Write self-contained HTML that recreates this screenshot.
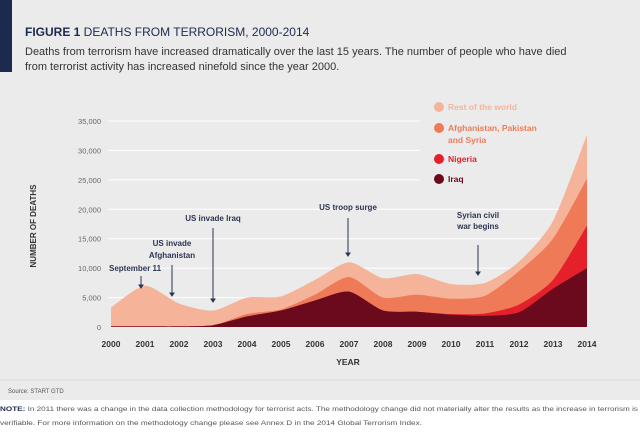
<!DOCTYPE html>
<html><head><meta charset="utf-8"><style>
body{margin:0;width:640px;height:442px;overflow:hidden;background:#ebebeb;font-family:"Liberation Sans",sans-serif}
svg{position:absolute;left:0;top:0}
</style></head><body>
<svg width="640" height="442">
<rect x="0" y="0" width="640" height="400" fill="#ebebeb"/>
<rect x="0" y="400" width="640" height="42" fill="#ffffff"/>
<rect x="0" y="0" width="12" height="72" fill="#1c2a4f"/>
<text x="25" y="36" font-size="12" fill="#1c2a4f"><tspan font-weight="bold">FIGURE 1</tspan> DEATHS FROM TERRORISM, 2000-2014</text>
<text x="25" y="55" font-size="11" fill="#333">Deaths from terrorism have increased dramatically over the last 15 years. The number of people who have died</text>
<text x="25" y="70" font-size="11" fill="#333">from terrorist activity has increased ninefold since the year 2000.</text>
<g id="grid"></g>
<g id="areas"></g>
<g id="axes"></g>
<text transform="translate(36,226) rotate(-90)" text-anchor="middle" font-size="8" font-weight="bold" fill="#333">NUMBER OF DEATHS</text>
<text x="348" y="365" text-anchor="middle" font-size="8.5" font-weight="bold" fill="#333">YEAR</text>
<line x1="0" y1="380" x2="640" y2="380" stroke="#d8d8d8"/>
<text x="8" y="393" font-size="6" fill="#555">Source: START GTD</text>
<text x="0" y="411" font-size="6.6" fill="#555" textLength="638" lengthAdjust="spacingAndGlyphs"><tspan font-weight="bold" fill="#1c2a4f">NOTE:</tspan> In 2011 there was a change in the data collection methodology for terrorist acts. The methodology change did not materially alter the results as the increase in terrorism is</text>
<text x="0" y="425" font-size="6.6" fill="#555" textLength="422" lengthAdjust="spacingAndGlyphs">verifiable. For more information on the methodology change please see Annex D in the 2014 Global Terrorism Index.</text>
<g font-size="8.5" font-weight="bold">
<circle cx="439" cy="107" r="5" fill="#f5b49a"/>
<text x="448" y="110" fill="#f5b49a">Rest of the world</text>
<circle cx="439" cy="128" r="5" fill="#ee7a58"/>
<text x="448" y="131" fill="#ee7a58">Afghanistan, Pakistan</text>
<text x="448" y="143" fill="#ee7a58">and Syria</text>
<circle cx="439" cy="159" r="5" fill="#e4202a"/>
<text x="448" y="162" fill="#e4202a">Nigeria</text>
<circle cx="439" cy="179" r="5" fill="#6a0a1c"/>
<text x="448" y="182" fill="#6a0a1c">Iraq</text>
</g>
<g font-size="8" font-weight="bold" fill="#2a3550" text-anchor="middle" stroke="none">
<text x="135" y="271">September 11</text>
<text x="172" y="246">US invade</text>
<text x="172" y="258">Afghanistan</text>
<text x="213" y="221">US invade Iraq</text>
<text x="348" y="210">US troop surge</text>
<text x="478" y="218">Syrian civil</text>
<text x="478" y="229">war begins</text>
</g>
<g stroke="#2a3550" stroke-width="1" fill="#2a3550">
<line x1="141" y1="276" x2="141" y2="286"/><path d="M139,285 L143,285 L141,288Z"/>
<line x1="172" y1="265" x2="172" y2="294"/><path d="M170,293 L174,293 L172,296Z"/>
<line x1="213" y1="228" x2="213" y2="300"/><path d="M211,299 L215,299 L213,302Z"/>
<line x1="348" y1="218" x2="348" y2="254"/><path d="M346,253 L350,253 L348,256Z"/>
<line x1="478" y1="245" x2="478" y2="273"/><path d="M476,272 L480,272 L478,275Z"/>
</g>
</svg>
<script>
const years=[2000,2001,2002,2003,2004,2005,2006,2007,2008,2009,2010,2011,2012,2013,2014];
const iraq=[100,100,100,300,1800,2800,4500,6000,2800,2600,2100,1900,2500,6500,10000];
const nigeria=[0,0,0,0,0,0,0,0,0,0,100,400,1300,1500,7200];
const afpakSyria=[0,0,0,0,400,200,1000,2500,2200,2900,2600,3000,5700,7000,8000];
const rest=[3200,6900,3900,2500,2800,2200,2500,2500,3300,3500,2500,2200,1600,3000,7500];
const yTicks=[0,5000,10000,15000,20000,25000,30000,35000];
const NS="http://www.w3.org/2000/svg";
const x0=111,x1=587,yb=327,yt=121,ymax=35000;
function xs(i){return x0+(x1-x0)*i/(years.length-1);}
function ys(v){return yb-(yb-yt)*v/ymax;}
const grid=document.getElementById('grid'),areas=document.getElementById('areas'),axes=document.getElementById('axes');
yTicks.forEach(t=>{
 const y=ys(t);
 if(t>0){const l=document.createElementNS(NS,'line');
 l.setAttribute('x1',108);l.setAttribute('x2',t>=25000?420:560);l.setAttribute('y1',y);l.setAttribute('y2',y);
 l.setAttribute('stroke','#ffffff');l.setAttribute('stroke-width','1');
 
 
 grid.appendChild(l);}
 const tx=document.createElementNS(NS,'text');
 tx.setAttribute('x',101);tx.setAttribute('y',y+3);tx.setAttribute('text-anchor','end');
 tx.setAttribute('font-size','7.5');tx.setAttribute('fill','#666');
 tx.textContent=t===0?'0':t.toLocaleString('en-US');
 
 
 axes.appendChild(tx);
});
years.forEach((yr,i)=>{
 const tx=document.createElementNS(NS,'text');
 tx.setAttribute('x',xs(i));tx.setAttribute('y',347);tx.setAttribute('text-anchor','middle');
 tx.setAttribute('font-size','8.5');tx.setAttribute('font-weight','bold');tx.setAttribute('fill','#333');
 tx.textContent=yr;
 
 
 axes.appendChild(tx);
});
function curve(pts){
 let d='M'+pts[0][0]+','+pts[0][1];
 for(let i=0;i<pts.length-1;i++){
  const p0=pts[Math.max(0,i-1)],p1=pts[i],p2=pts[i+1],p3=pts[Math.min(pts.length-1,i+2)];
  const k=0.12;
  const c1=[p1[0]+(p2[0]-p0[0])*k,p1[1]+(p2[1]-p0[1])*k];
  const c2=[p2[0]-(p3[0]-p1[0])*k,p2[1]-(p3[1]-p1[1])*k];
  d+=' C'+c1+' '+c2+' '+p2;
 }
 return d;
}
const layers=[[iraq,'#6a0a1c','area-iraq'],[nigeria,'#e4202a','area-nigeria'],[afpakSyria,'#ee7a58','area-afpak-syria'],[rest,'#f5b49a','area-rest-of-world']];
const cum=years.map(()=>0);const tops=[];
layers.forEach(L=>{const t=cum.map((c,i)=>c+L[0][i]);tops.push(t);t.forEach((v,i)=>cum[i]=v);});
for(let k=layers.length-1;k>=0;k--){
 const pts=tops[k].map((v,i)=>[xs(i),ys(v)]);
 const p=document.createElementNS(NS,'path');
 p.setAttribute('d',curve(pts)+' L'+xs(years.length-1)+','+yb+' L'+x0+','+yb+'Z');
 p.setAttribute('fill',layers[k][1]);
 
 
 areas.appendChild(p);
}
</script>
</body></html>
